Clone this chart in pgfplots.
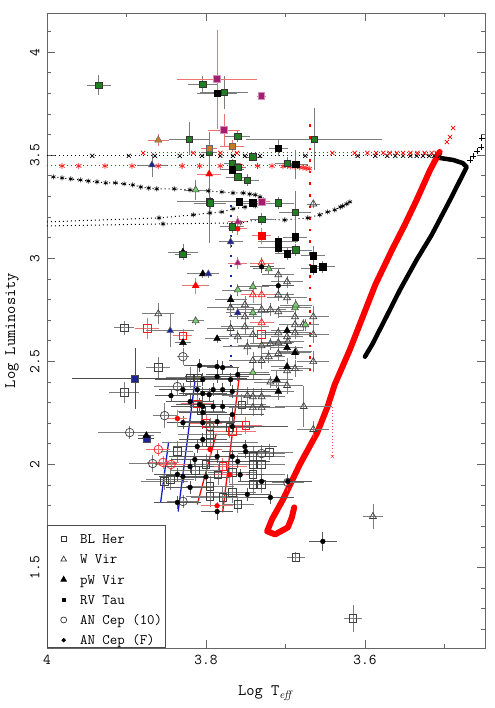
\documentclass[border=0pt]{standalone}
\usepackage{pgfplots}
\pgfplotsset{compat=1.18}

\definecolor{rvgreen}{RGB}{35,125,35}
\definecolor{wvgreen}{RGB}{120,205,110}
\definecolor{navy}{RGB}{30,35,150}
\definecolor{mag}{RGB}{165,30,110}
\definecolor{ochre}{RGB}{195,125,40}
\definecolor{ebgray}{RGB}{125,125,125}
\definecolor{ebred}{RGB}{238,115,115}
\definecolor{stripblue}{RGB}{20,30,200}

\pgfplotsset{
  errs/.style={
    error bars/x dir=both, error bars/x explicit,
    error bars/y dir=both, error bars/y explicit,
    error bars/error mark=none,
    error bars/error bar style={line width=0.75pt, solid, #1}},
  errs/.default=ebgray,
  lgd/.style={legend image code/.code={\path (0pt,0pt) (26pt,0pt); \draw[##1] plot coordinates {(13pt,-3pt)};}},
  track/.style={forget plot, line width=1pt, dash pattern=on 1pt off 3pt},
}

\begin{document}
\begin{tikzpicture}
\begin{axis}[
  scale only axis, width=438pt, height=635pt,
  x dir=reverse, xmin=3.449, xmax=4.0, ymin=1.11, ymax=4.19,
  xtick={3.6,3.8,4}, minor xtick={3.5,3.7,3.9},
  ytick={1.5,2,2.5,3,3.5,4},
  minor ytick={1.2,1.3,1.4,1.6,1.7,1.8,1.9,2.1,2.2,2.3,2.4,2.6,2.7,2.8,2.9,3.1,3.2,3.3,3.4,3.6,3.7,3.8,3.9,4.1},
  tick align=inside, major tick length=8pt, minor tick length=4pt,
  axis line style={black!60, line width=0.8pt},
  every tick/.style={black!60, line width=0.8pt},
  /pgf/number format/assume math mode=true,
  ticklabel style={font=\fontsize{15}{18}\selectfont\ttfamily},
  yticklabel style={rotate=90, anchor=south},
  xticklabel shift=4pt, yticklabel shift=4pt,
  xlabel={Log T$_{\mathit{eff}}$}, ylabel={Log Luminosity},
  label style={font=\fontsize{16}{19}\selectfont\ttfamily},
  xlabel style={at={(axis description cs:0.5,-0.0709)}, anchor=center},
  ylabel style={at={(axis description cs:-0.080,0.5)}, anchor=center},
  legend style={at={(axis description cs:0,0)}, anchor=south west, draw=black!70, line width=0.7pt,
    fill=white, inner xsep=3pt, inner ysep=3pt, row sep=5.2pt,
    font=\fontsize{14.5}{17}\selectfont\ttfamily,
    nodes={inner sep=0pt, text height=15pt, text depth=0pt},
    /tikz/every odd column/.append style={column sep=3pt}},
  legend cell align=left,
]

% ---- legend symbols ----
\addlegendimage{lgd, only marks, mark=square, mark size=2.6pt, black!80}
\addlegendentry{BL Her}
\addlegendimage{lgd, only marks, mark=triangle, mark size=3.2pt, black!80}
\addlegendentry{W Vir}
\addlegendimage{lgd, only marks, mark=triangle*, mark size=3.2pt, black}
\addlegendentry{pW Vir}
\addlegendimage{lgd, only marks, mark=square*, mark size=1.8pt, black}
\addlegendentry{RV Tau}
\addlegendimage{lgd, only marks, mark=o, mark size=3pt, black!80}
\addlegendentry{AN Cep (10)}
\addlegendimage{lgd, only marks, mark=*, mark size=1.8pt, black}
\addlegendentry{AN Cep (F)}

% ---- evolutionary tracks ----
% horizontal loci
\addplot[track, black] coordinates {(4.0,3.497) (3.506,3.497)};
\addplot[forget plot, only marks, mark=x, mark size=3pt, black, line width=0.7pt] coordinates {
 (3.943,3.497) (3.897,3.497) (3.864,3.497) (3.833,3.497) (3.805,3.497) (3.782,3.497)
 (3.766,3.497) (3.751,3.497) (3.732,3.497) (3.675,3.497) (3.609,3.497) (3.587,3.497)
 (3.572,3.497) (3.562,3.497) (3.552,3.497) (3.543,3.497) (3.535,3.497) (3.527,3.497)
 (3.519,3.497) (3.513,3.497) (3.506,3.497)};
\addplot[track, red] coordinates {(3.879,3.511) (3.506,3.511)};
\addplot[forget plot, only marks, mark=x, mark size=3pt, red, line width=0.7pt] coordinates {
 (3.879,3.511) (3.816,3.511) (3.782,3.511) (3.761,3.511) (3.641,3.511) (3.613,3.511)
 (3.597,3.511) (3.586,3.511) (3.577,3.511) (3.569,3.511) (3.560,3.511) (3.552,3.511)
 (3.543,3.511) (3.534,3.511) (3.525,3.511) (3.516,3.511) (3.510,3.511) (3.506,3.511)
 (3.497,3.564) (3.493,3.588) (3.489,3.632)};
\addplot[track, red] coordinates {(4.0,3.448) (3.670,3.448)};
\addplot[forget plot, only marks, mark=asterisk, mark size=3pt, red!85, line width=0.8pt] coordinates {
 (3.981,3.448) (3.960,3.448) (3.927,3.448) (3.893,3.448) (3.860,3.448) (3.830,3.448)
 (3.808,3.448) (3.782,3.448) (3.757,3.448) (3.735,3.448) (3.717,3.448) (3.703,3.446)
 (3.694,3.445) (3.688,3.444) (3.682,3.442) (3.678,3.440) (3.674,3.437) (3.670,3.435)};
% vertical dotted loci
\addplot[forget plot, red, line width=2.6pt, dash pattern=on 2.6pt off 9pt] coordinates {(3.669,3.65) (3.669,2.45)};
\addplot[forget plot, red!70, line width=0.7pt, dash pattern=on 0.7pt off 2.5pt] coordinates {(3.641,2.28) (3.641,2.04)};
\addplot[forget plot, only marks, mark=x, mark size=2.5pt, red!80] coordinates {(3.641,2.039)};
\addplot[forget plot, stripblue, line width=2pt, dash pattern=on 2pt off 8pt] coordinates {(3.769,3.26) (3.769,2.44)};

% blue loops
\addplot[track, black, mark=asterisk, mark size=2.5pt, mark options={solid, line width=0.7pt}] coordinates {
 (3.992,3.395) (3.981,3.390) (3.970,3.385) (3.958,3.380) (3.948,3.375) (3.937,3.371)
 (3.926,3.366) (3.914,3.366) (3.903,3.361) (3.892,3.356) (3.882,3.346) (3.872,3.341)
 (3.862,3.337) (3.840,3.337) (3.820,3.332) (3.797,3.327) (3.780,3.322) (3.766,3.317)
 (3.753,3.317) (3.745,3.312) (3.738,3.308) (3.732,3.298) (3.730,3.288) (3.728,3.274)};
\addplot[track, black, mark=asterisk, mark size=2.5pt, mark options={solid, line width=0.7pt}, mark indices={2,3,4,5,6,7,8}] coordinates {
 (4.0,3.177) (3.859,3.196) (3.816,3.211) (3.795,3.220) (3.780,3.225) (3.766,3.240)
 (3.751,3.249) (3.738,3.254)};
\addplot[track, black, mark=asterisk, mark size=2.5pt, mark options={solid, line width=0.7pt}, mark indices={2,3,4,5,6,7,8,9,10,11,12,13}] coordinates {
 (4.0,3.157) (3.854,3.167) (3.757,3.172) (3.730,3.191) (3.701,3.186) (3.672,3.196)
 (3.657,3.211) (3.647,3.225) (3.638,3.235) (3.631,3.249) (3.628,3.254) (3.623,3.264)
 (3.619,3.274)};

% dense post-AGB descending tracks
\addplot[forget plot, black, line width=4.5pt, line join=round, line cap=round] coordinates {
 (3.506,3.487) (3.489,3.477) (3.477,3.462) (3.472,3.443) (3.493,3.283) (3.516,3.114)
 (3.535,2.993) (3.556,2.847) (3.575,2.702) (3.591,2.581) (3.600,2.523)};
\addplot[forget plot, only marks, mark=+, mark size=3pt, black, line width=0.7pt] coordinates {
 (3.468,3.477) (3.464,3.496) (3.459,3.521) (3.454,3.540) (3.453,3.584)};
\addplot[forget plot, red, line width=6pt, line join=round, line cap=round] coordinates {
 (3.506,3.516) (3.518,3.429) (3.535,3.283) (3.550,3.162) (3.566,3.041) (3.587,2.872)
 (3.619,2.557) (3.638,2.388) (3.647,2.281) (3.660,2.155) (3.682,2.000) (3.703,1.831)
 (3.717,1.734) (3.723,1.676) (3.713,1.661) (3.697,1.695) (3.692,1.743) (3.689,1.792)};

% instability strip edges
\addplot[forget plot, stripblue, line width=1.3pt] coordinates {(3.857,1.816) (3.847,2.110)};
\addplot[forget plot, stripblue, line width=1.3pt] coordinates {(3.835,1.772) (3.814,2.400)};
\addplot[forget plot, red, line width=1.3pt] coordinates {(3.811,1.806) (3.787,2.150)};
\addplot[forget plot, red, line width=1.3pt] coordinates {(3.779,1.768) (3.758,2.430)};

% ---- BL Her ----
\addplot[forget plot, only marks, black!75, mark=square, mark size=3.8pt, mark options={line width=0.7pt}, errs] coordinates {
 (3.903,2.663) +- (0.013,0.035)
 (3.860,2.470) +- (0.015,0.05)
 (3.903,2.349) +- (0.019,0.05)
 (3.820,2.421) +- (0.030,0.05)
 (3.811,2.421) +- (0.030,0.05)
 (3.836,2.063) +- (0.020,0.05)
 (3.845,1.927) +- (0.030,0.05)
 (3.852,1.918) +- (0.030,0.04)
 (3.760,1.806) +- (0.020,0.04)
 (3.795,2.145) +- (0.040,0.06)
 (3.795,2.107) +- (0.060,0.05)
 (3.741,2.039) +- (0.040,0.05)
 (3.741,2.000) +- (0.030,0.05)
 (3.730,2.000) +- (0.030,0.05)
 (3.741,1.952) +- (0.040,0.05)
 (3.741,1.903) +- (0.030,0.05)
 (3.730,1.903) +- (0.030,0.04)
 (3.767,1.961) +- (0.030,0.05)
 (3.767,1.865) +- (0.030,0.05)
 (3.779,1.840) +- (0.040,0.05)
 (3.795,1.893) +- (0.030,0.05)
 (3.795,1.845) +- (0.030,0.05)
 (3.687,1.550) +- (0.011,0.025)
 (3.615,1.254) +- (0.011,0.065)
 (3.800,2.000) +- (0.040,0.05)
 (3.785,1.950) +- (0.030,0.05)
 (3.770,2.180) +- (0.030,0.05)
 (3.806,2.260) +- (0.030,0.05)
 (3.813,1.972) +- (0.030,0.05)
 (3.720,2.060) +- (0.030,0.04)
 (3.755,2.290) +- (0.030,0.05)
};
\addplot[forget plot, only marks, red!90, mark=square, mark size=3.8pt, mark options={line width=0.7pt}, errs=ebred] coordinates {
 (3.874,2.659) +- (0.015,0.05)
 (3.829,2.625) +- (0.012,0.03)
 (3.811,2.295) +- (0.020,0.04)
 (3.750,2.189) +- (0.020,0.04)
 (3.767,2.160) +- (0.030,0.03)
 (3.730,2.630) +- (0.020,0.03)
 (3.779,1.990) +- (0.030,0.04)
 (3.800,2.200) +- (0.020,0.04)
};
\addplot[forget plot, only marks, black!80, mark=square*, mark size=3.5pt, mark options={fill=navy, draw=black!70, line width=0.6pt}, errs=black!70] coordinates {
 (3.889,2.417) += (0.08,0.15) -= (0.14,0.15)
 (3.875,2.126) +- (0.010,0.02)
};

% ---- W Vir ----
\addplot[forget plot, only marks, black!75, mark=triangle, mark size=4pt, mark options={line width=0.7pt}, errs] coordinates {
 (3.860,2.731) +- (0.020,0.05)
 (3.665,3.264) +- (0.008,0.02)
 (3.709,2.920) +- (0.020,0.03)
 (3.698,2.886) +- (0.020,0.03)
 (3.709,2.823) +- (0.020,0.03)
 (3.698,2.809) +- (0.025,0.03)
 (3.751,2.775) +- (0.020,0.04)
 (3.751,2.717) +- (0.020,0.04)
 (3.730,2.751) +- (0.030,0.04)
 (3.719,2.751) +- (0.020,0.03)
 (3.709,2.741) +- (0.020,0.03)
 (3.688,2.717) +- (0.020,0.03)
 (3.665,2.717) +- (0.020,0.05)
 (3.678,2.678) +- (0.020,0.03)
 (3.751,2.668) +- (0.030,0.04)
 (3.741,2.630) +- (0.030,0.04)
 (3.709,2.639) +- (0.020,0.03)
 (3.698,2.620) +- (0.020,0.03)
 (3.709,2.591) +- (0.020,0.03)
 (3.688,2.639) +- (0.020,0.03)
 (3.688,2.678) +- (0.020,0.03)
 (3.665,2.630) +- (0.020,0.04)
 (3.748,2.571) +- (0.030,0.04)
 (3.730,2.576) +- (0.030,0.04)
 (3.719,2.586) +- (0.025,0.03)
 (3.697,2.596) +- (0.020,0.03)
 (3.687,2.547) +- (0.020,0.03)
 (3.709,2.538) +- (0.020,0.03)
 (3.741,2.504) +- (0.030,0.04)
 (3.730,2.504) +- (0.030,0.04)
 (3.721,2.523) +- (0.020,0.03)
 (3.698,2.455) +- (0.020,0.04)
 (3.698,2.383) +- (0.020,0.04)
 (3.688,2.465) +- (0.020,0.04)
 (3.665,2.499) +- (0.020,0.05)
 (3.741,2.329) +- (0.030,0.04)
 (3.730,2.329) +- (0.030,0.04)
 (3.741,2.276) +- (0.030,0.04)
 (3.730,2.276) +- (0.030,0.04)
 (3.677,2.281) +- (0.036,0.10)
 (3.665,2.170) +- (0.020,0.04)
 (3.590,1.748) +- (0.013,0.06)
 (3.748,2.334) +- (0.030,0.04)
 (3.769,2.760) +- (0.030,0.04)
 (3.769,2.660) +- (0.030,0.04)
 (3.719,2.400) +- (0.020,0.03)
 (3.760,2.620) +- (0.025,0.03)
};
\addplot[forget plot, only marks, black!70, mark=triangle*, mark size=4pt, mark options={fill=wvgreen, line width=0.6pt}, errs] coordinates {
 (3.813,3.332) +- (0.015,0.05)
 (3.813,2.697) +- (0.010,0.02)
 (3.721,2.949) +- (0.020,0.03)
 (3.760,2.847) +- (0.020,0.03)
 (3.741,2.862) +- (0.020,0.03)
 (3.741,2.736) +- (0.020,0.03)
 (3.688,2.760) +- (0.020,0.03)
 (3.675,2.678) +- (0.015,0.03)
 (3.741,2.446) +- (0.020,0.03)
 (3.687,2.774) +- (0.020,0.03)
};
\addplot[forget plot, only marks, red!90, mark=triangle, mark size=4pt, mark options={line width=0.7pt}, errs=ebred] coordinates {
 (3.730,2.978) +- (0.015,0.03)
 (3.730,2.823) +- (0.015,0.04)
 (3.741,2.823) +- (0.015,0.04)
 (3.730,2.688) +- (0.015,0.04)
};
\addplot[forget plot, only marks, mag, mark=triangle*, mark size=4pt, mark options={fill=mag, draw=mag!60, line width=0.6pt}, errs=ebred] coordinates {
 (3.760,3.177) +- (0.012,0.03)
 (3.760,2.978) +- (0.012,0.03)
};

% ---- pW Vir ----
\addplot[forget plot, only marks, black, mark=triangle*, mark size=4pt, errs] coordinates {
 (3.829,3.030) +- (0.019,0.04)
 (3.804,2.925) +- (0.020,0.02)
 (3.786,2.610) +- (0.015,0.02)
 (3.829,2.591) +- (0.010,0.02)
 (3.769,2.799) +- (0.020,0.03)
 (3.698,2.567) +- (0.020,0.03)
 (3.688,2.542) +- (0.020,0.03)
 (3.698,2.475) +- (0.020,0.04)
 (3.711,2.412) +- (0.020,0.04)
 (3.709,2.354) +- (0.020,0.04)
 (3.875,2.140) +- (0.010,0.02)
 (3.698,2.649) +- (0.020,0.03)
};
\addplot[forget plot, only marks, navy, mark=triangle*, mark size=4pt, mark options={fill=navy, draw=black!60}, errs] coordinates {
 (3.868,3.453) +- (0.019,0.06)
 (3.769,3.080) +- (0.015,0.03)
 (3.797,2.925) +- (0.010,0.02)
 (3.845,2.649) +- (0.030,0.08)
 (3.760,2.736) +- (0.015,0.03)
};
\addplot[forget plot, only marks, red, mark=triangle*, mark size=4pt, errs=ebred] coordinates {
 (3.796,3.409) +- (0.015,0.04)
 (3.813,2.867) +- (0.017,0.04)
};
\addplot[forget plot, only marks, ochre, mark=triangle*, mark size=4.2pt, mark options={fill=ochre, draw=black!60}, errs=ebred] coordinates {
 (3.860,3.574) +- (0.013,0.03)
};

% ---- RV Tau ----
\addplot[forget plot, only marks, black, mark=square*, mark size=3.2pt, mark options={fill=rvgreen, draw=black!80, line width=0.5pt}, errs] coordinates {
 (3.935,3.840) +- (0.015,0.05)
 (3.804,3.845) +- (0.019,0.04)
 (3.777,3.806) +- (0.030,0.08)
 (3.821,3.579) +- (0.025,0.08)
 (3.796,3.274) += (0.04,0.34) -= (0.04,0.20)
 (3.796,3.516) +- (0.010,0.02)
 (3.760,3.593) +- (0.016,0.03)
 (3.664,3.579) +- (0.086,0.15)
 (3.741,3.492) +- (0.010,0.02)
 (3.767,3.462) +- (0.010,0.02)
 (3.760,3.443) +- (0.010,0.02)
 (3.760,3.395) +- (0.015,0.02)
 (3.748,3.380) +- (0.015,0.03)
 (3.698,3.462) +- (0.015,0.03)
 (3.795,3.269) +- (0.020,0.03)
 (3.709,3.269) +- (0.020,0.03)
 (3.688,3.225) +- (0.020,0.10)
 (3.730,3.191) +- (0.015,0.03)
 (3.767,3.153) +- (0.015,0.03)
 (3.687,3.041) +- (0.020,0.03)
 (3.829,3.020) +- (0.010,0.02)
};
\addplot[forget plot, only marks, black, mark=square*, mark size=3.2pt, errs] coordinates {
 (3.786,3.801) +- (0.025,0.02)
 (3.709,3.535) +- (0.012,0.04)
 (3.687,3.457) +- (0.015,0.07)
 (3.767,3.430) +- (0.015,0.02)
 (3.758,3.274) +- (0.015,0.02)
 (3.741,3.269) +- (0.015,0.02)
 (3.709,3.080) +- (0.025,0.03)
 (3.709,3.051) +- (0.025,0.03)
 (3.688,3.104) +- (0.015,0.03)
 (3.665,3.012) +- (0.015,0.05)
 (3.665,2.949) +- (0.015,0.03)
 (3.653,2.959) +- (0.015,0.03)
 (3.698,3.022) +- (0.015,0.03)
};
\addplot[forget plot, only marks, ochre, mark=square*, mark size=3.2pt, mark options={fill=ochre, draw=black!60}, errs=ebred] coordinates {
 (3.796,3.535) +- (0.010,0.02)
 (3.767,3.545) +- (0.015,0.03)
};
\addplot[forget plot, only marks, mag, mark=square*, mark size=3.4pt, mark options={fill=mag, draw=mag!50, line width=0.8pt}, errs=ebred] coordinates {
 (3.786,3.869) +- (0.050,0.24)
 (3.777,3.622) +- (0.020,0.08)
 (3.730,3.274) +- (0.010,0.02)
};
\addplot[forget plot, only marks, mag, mark=square*, mark size=3.2pt, mark options={fill=mag, draw=mag!50, line width=0.8pt}, errs=mag!60] coordinates {
 (3.730,3.787) +- (0.006,0.015)
};
\addplot[forget plot, only marks, red, mark=square*, mark size=3.2pt, errs=ebred] coordinates {
 (3.730,3.109) +- (0.012,0.04)
};

% ---- AN Cep (first overtone) ----
\addplot[forget plot, only marks, black!75, mark=o, mark size=4.3pt, mark options={line width=0.7pt}, errs] coordinates {
 (3.829,2.523) +- (0.008,0.04)
 (3.836,2.378) +- (0.030,0.04)
 (3.852,2.237) +- (0.015,0.06)
 (3.896,2.155) +- (0.040,0.03)
 (3.867,2.005) +- (0.030,0.04)
 (3.829,1.821) +- (0.020,0.03)
 (3.795,2.184) +- (0.030,0.04)
 (3.730,2.053) +- (0.030,0.04)
 (3.697,1.913) +- (0.020,0.04)
};
\addplot[forget plot, only marks, red!90, mark=o, mark size=4.3pt, mark options={line width=0.7pt}, errs=ebred] coordinates {
 (3.860,2.073) +- (0.015,0.03)
 (3.854,2.010) +- (0.020,0.03)
 (3.844,2.000) +- (0.020,0.03)
};

% ---- AN Cep (fundamental) ----
\addplot[forget plot, only marks, black, mark=*, mark size=2.4pt, errs=black!65] coordinates {
 (3.653,1.627) +- (0.018,0.045)
 (3.844,2.334) +- (0.020,0.03)
 (3.829,2.363) +- (0.030,0.03)
 (3.820,2.305) +- (0.030,0.03)
 (3.811,2.363) +- (0.030,0.03)
 (3.804,2.344) +- (0.030,0.03)
 (3.796,2.339) +- (0.030,0.03)
 (3.808,2.291) +- (0.030,0.03)
 (3.804,2.252) +- (0.030,0.03)
 (3.829,2.203) +- (0.020,0.03)
 (3.836,1.952) +- (0.030,0.03)
 (3.829,1.942) +- (0.030,0.03)
 (3.820,1.889) +- (0.030,0.03)
 (3.836,1.816) +- (0.030,0.03)
 (3.811,2.087) +- (0.030,0.03)
 (3.804,2.121) +- (0.030,0.03)
 (3.814,2.024) +- (0.030,0.03)
 (3.786,2.475) +- (0.020,0.03)
 (3.779,2.470) +- (0.020,0.03)
 (3.804,2.412) +- (0.060,0.03)
 (3.786,2.426) +- (0.040,0.03)
 (3.769,2.412) +- (0.040,0.03)
 (3.760,2.436) +- (0.040,0.03)
 (3.791,2.363) +- (0.040,0.03)
 (3.779,2.363) +- (0.070,0.03)
 (3.767,2.354) +- (0.040,0.03)
 (3.804,2.281) +- (0.040,0.03)
 (3.791,2.281) +- (0.040,0.03)
 (3.779,2.281) +- (0.060,0.03)
 (3.767,2.242) +- (0.040,0.03)
 (3.804,2.203) +- (0.040,0.03)
 (3.786,2.208) +- (0.040,0.03)
 (3.767,2.184) +- (0.070,0.03)
 (3.751,2.087) +- (0.040,0.03)
 (3.767,2.039) +- (0.040,0.03)
 (3.760,2.015) +- (0.040,0.03)
 (3.786,2.039) +- (0.060,0.03)
 (3.748,1.855) +- (0.030,0.03)
 (3.719,1.840) +- (0.030,0.03)
 (3.697,1.918) +- (0.030,0.03)
 (3.786,1.772) +- (0.020,0.04)
 (3.750,2.063) +- (0.030,0.03)
 (3.730,1.918) +- (0.030,0.03)
 (3.730,2.959) +- (0.015,0.03)
 (3.709,2.867) +- (0.020,0.03)
 (3.808,2.480) +- (0.020,0.03)
 (3.820,1.990) +- (0.030,0.03)
 (3.757,1.950) +- (0.030,0.03)
 (3.800,1.940) +- (0.030,0.03)
};
\addplot[forget plot, only marks, red, mark=*, mark size=2.4pt, errs=ebred] coordinates {
 (3.836,2.223) +- (0.012,0.04)
 (3.760,3.143) +- (0.012,0.03)
 (3.795,2.073) +- (0.015,0.03)
 (3.786,1.800) +- (0.020,0.02)
 (3.770,1.950) +- (0.020,0.04)
};

\end{axis}
\pgfresetboundingbox
\path ([shift={(-47pt,-60pt)}]current axis.south west) rectangle ([shift={(9pt,13pt)}]current axis.north east);
\end{tikzpicture}
\end{document}
